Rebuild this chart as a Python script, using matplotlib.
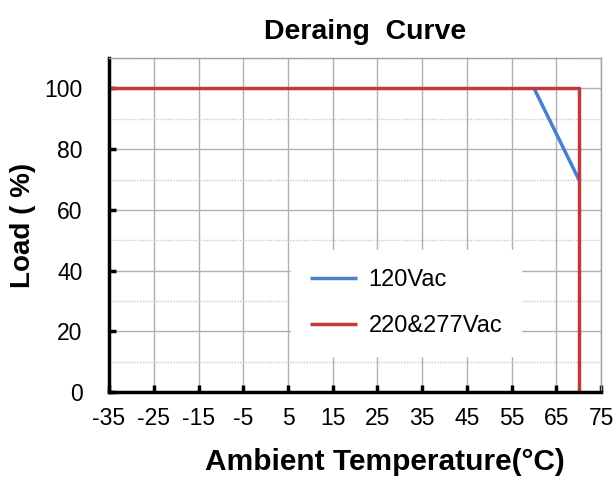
import matplotlib
matplotlib.use("Agg")
import matplotlib.pyplot as plt
from matplotlib.ticker import MultipleLocator

plt.rcParams['font.family'] = ['Liberation Sans', 'DejaVu Sans']
plt.rcParams['axes.unicode_minus'] = False

temp_120 = [60, 70]
load_120 = [100, 70]
temp_220 = [-35, 70, 70]
load_220 = [100, 100, 0]
xticks = [-35, -25, -15, -5, 5, 15, 25, 35, 45, 55, 65, 75]
yticks = [0, 20, 40, 60, 80, 100]

fig = plt.figure(figsize=(6.16, 4.8), dpi=100)
ax = fig.add_axes([0.177, 0.183, 0.799, 0.696])

ax.set_xlim(-35, 75)
ax.set_ylim(0, 110)
ax.set_xticks(xticks)
ax.set_yticks(yticks)
ax.yaxis.set_minor_locator(MultipleLocator(10))

ax.grid(True, which='major', color='#b0b0b0', linewidth=1.0)
ax.grid(True, which='minor', axis='y', color='#c8c8c8', linewidth=1.0, linestyle=(0, (1, 1)))
ax.set_axisbelow(True)

ax.plot(temp_120, load_120, color='#4a7fcc', linewidth=2.5, label='120Vac', solid_capstyle='butt')
ax.plot(temp_220, load_220, color='#c0393b', linewidth=2.5, label='220&277Vac', solid_capstyle='butt')

for s in ['top', 'right']:
    ax.spines[s].set_color('#a0a0a0')
    ax.spines[s].set_linewidth(1.0)
for s in ['left', 'bottom']:
    ax.spines[s].set_color('black')
    ax.spines[s].set_linewidth(2.5)

ax.tick_params(axis='both', which='major', direction='in', length=5, width=2.5, labelsize=16.5)
ax.tick_params(axis='y', which='major', pad=19)
ax.tick_params(axis='x', which='major', pad=11)
ax.tick_params(axis='y', which='minor', length=0)

ax.set_title('Deraing  Curve', fontsize=20.5, fontweight='bold', pad=14, x=0.52)
ax.set_xlabel('Ambient Temperature(°C)', fontsize=21.5, fontweight='bold', labelpad=13,
              x=0.56, ha='center')
ax.set_ylabel('Load ( %)', fontsize=20, fontweight='bold', labelpad=6)

leg = ax.legend(loc='upper left', bbox_to_anchor=(0.345, 0.46), fontsize=17,
                frameon=True, framealpha=1.0, edgecolor='white', fancybox=False,
                handlelength=2.0, handletextpad=0.5, labelspacing=1.0, borderpad=0.8)

fig.savefig('out.png', dpi=100)
